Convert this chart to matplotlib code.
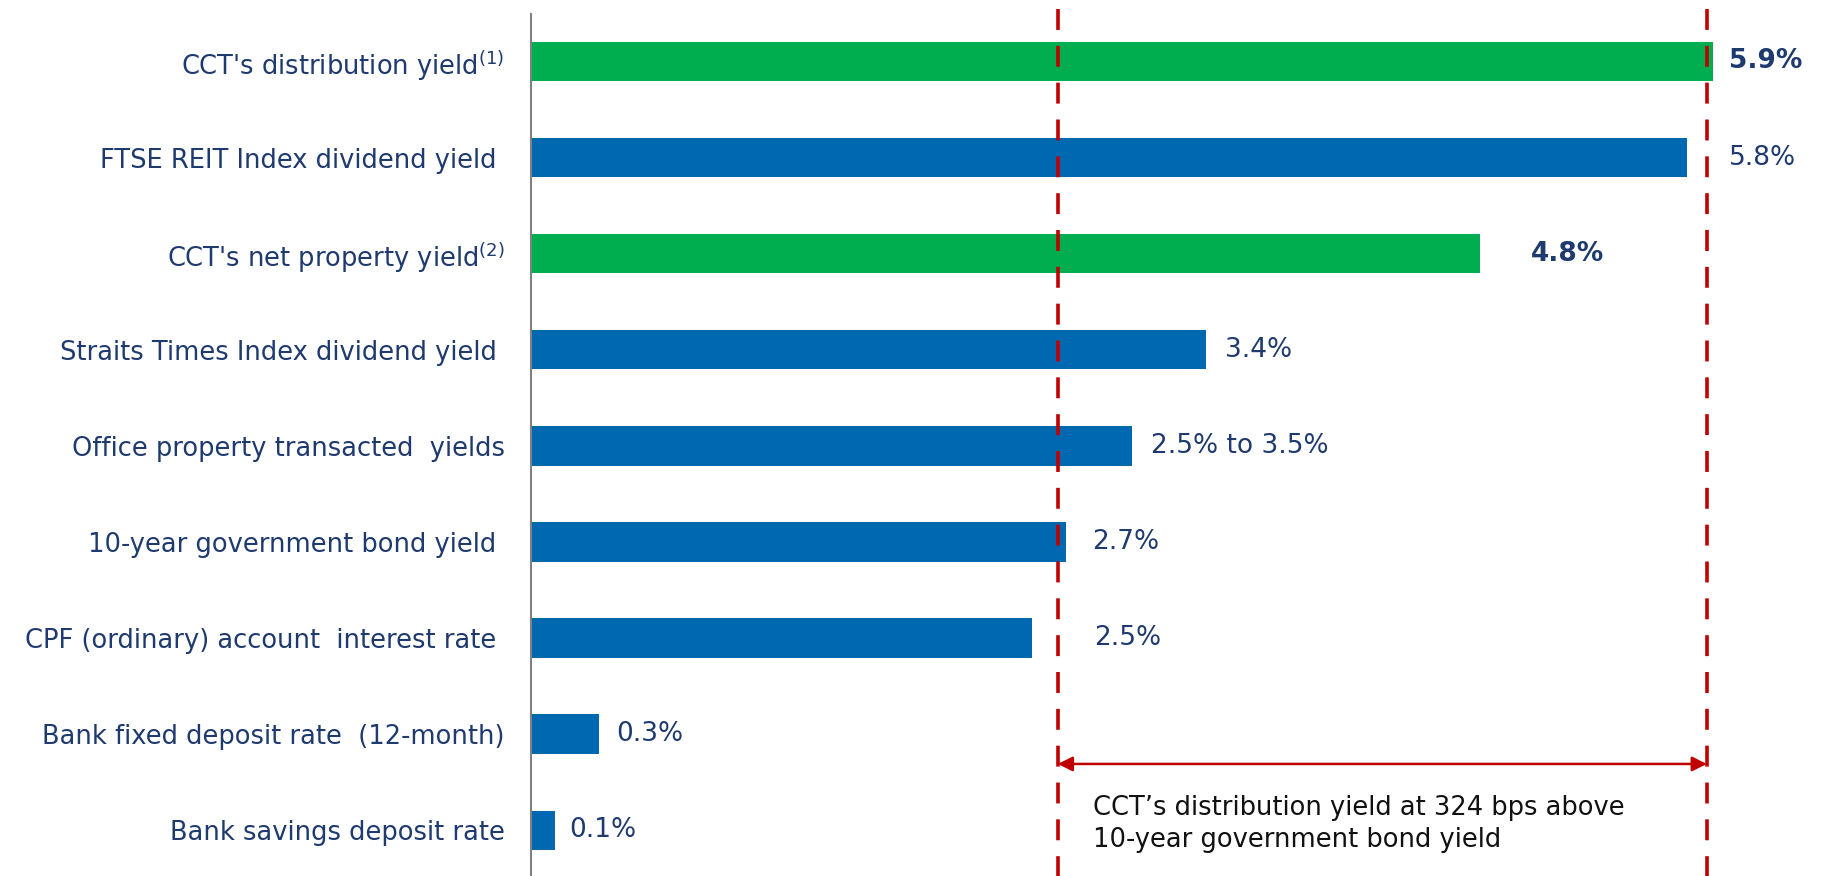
import matplotlib
matplotlib.use("Agg")
import matplotlib.pyplot as plt

plt.rcParams['font.family'] = ['DejaVu Sans']
plt.rcParams['mathtext.default'] = 'regular'

# yields, top to bottom
categories = [
    "CCT's distribution yield$^{(1)}$",
    "FTSE REIT Index dividend yield ",
    "CCT's net property yield$^{(2)}$",
    "Straits Times Index dividend yield ",
    "Office property transacted  yields",
    "10-year government bond yield ",
    "CPF (ordinary) account  interest rate ",
    "Bank fixed deposit rate  (12-month)",
    "Bank savings deposit rate",
]
values = [5.90, 5.77, 4.74, 3.37, 3.00, 2.67, 2.50, 0.34, 0.12]
value_labels = ['5.9%', '5.8%', '4.8%', '3.4%', '2.5% to 3.5%', '2.7%', '2.5%', '0.3%', '0.1%']
is_cct = [True, False, True, False, False, False, False, False, False]

# reference lines (bond yield and CCT yield) and spread note
bond_line = 2.63
cct_line = 5.87
spread_text = "CCT\u2019s distribution yield at 324 bps above\n10-year government bond yield"

green = '#00AE50'
blue = '#0067B1'
navy = '#1F3A6E'
red = '#C00000'

fig = plt.figure(figsize=(18.21, 8.76), dpi=100)
ax = fig.add_axes([531 / 1821, 0, 1 - 531 / 1821, 1 - 14 / 876])

y = list(range(len(categories)))
colors = [green if c else blue for c in is_cct]
ax.barh(y, values, height=0.41, color=colors, zorder=2)

# label gap from bar end, in points
offsets = [11.5, 30, 36, 14, 14, 19, 45, 12, 10]
for yi, v, lab, c, off in zip(y, values, value_labels, is_cct, offsets):
    ax.annotate(lab, (v, yi), xytext=(off, 0), textcoords='offset points',
                ha='left', va='center', fontsize=19, color=navy,
                fontweight='bold' if c else 'normal')

ax.set_xlim(0, 6.44)
ax.set_ylim(8.476, -0.494)
ax.set_yticks(y)
ax.set_yticklabels(categories, fontsize=18.5, color=navy)
ax.tick_params(axis='y', length=0, pad=19)
ax.set_xticks([])
for s in ['top', 'right', 'bottom']:
    ax.spines[s].set_visible(False)
ax.spines['left'].set_color('#808080')
ax.spines['left'].set_linewidth(1.5)

for xv in [bond_line, cct_line]:
    ax.plot([xv, xv], [-0.55, 8.6], color=red, lw=2.6, dashes=(5.8, 4.4),
            zorder=3, clip_on=False)

ax.annotate('', xy=(cct_line, 7.31), xytext=(bond_line, 7.31),
            arrowprops=dict(arrowstyle='<|-|>', color=red, lw=1.8,
                            mutation_scale=22, shrinkA=0, shrinkB=0))
ax.text(bond_line + 0.175, 7.93, spread_text, ha='left', va='center',
        fontsize=18.5, color='#111111', linespacing=1.3)

fig.savefig('out.png', dpi=100)
